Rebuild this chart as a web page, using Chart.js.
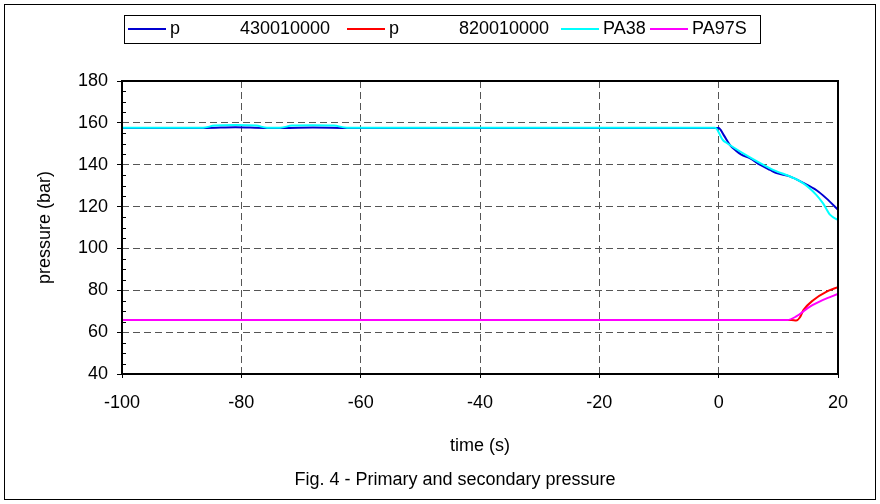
<!DOCTYPE html>
<html>
<head>
<meta charset="utf-8">
<script src="https://cdn.jsdelivr.net/npm/chart.js@4.4.0/dist/chart.umd.min.js"></script>
<style>
  html, body { margin: 0; padding: 0; background: #fff; }
  #wrap { width: 880px; height: 504px; }
</style>
</head>
<body>
<div id="wrap"><canvas id="chart" width="880" height="504"></canvas></div>
<script>
// time axis (s) and pressures (bar)
const primaryTime = [-100, -86, -81, -76, -73, -68, -62, -40, -20, 0, 0.8, 1.9, 3, 3.8, 5.2, 6.9, 8.6, 9.7, 11.9, 14.2, 16.4, 18.1, 20];
const primaryP    = [157.6, 157.6, 157.9, 157.6, 157.6, 157.8, 157.6, 157.6, 157.6, 157.6, 154.4, 149.4, 146.5, 144.8, 143.2, 140, 137.5, 136, 134.4, 131.3, 127.8, 123.8, 118.5];

const secondaryTime = [-100, -40, 0, 12.2, 13, 13.6, 14.2, 15.9, 18.1, 20];
const secondaryP    = [65.8, 65.8, 65.8, 65.8, 65.6, 67, 70.5, 75.4, 79.4, 81.5];

const pa38Time = [-100, -86.4, -84.5, -81, -77.5, -75.7, -73.5, -71.5, -68, -64.5, -62.3, -40, -0.6, 0.7, 1.3, 4.6, 8.6, 14.2, 16.4, 17.5, 18.7, 20];
const pa38P    = [157.7, 157.7, 158.7, 159, 158.7, 157.7, 157.7, 158.7, 158.9, 158.7, 157.7, 157.7, 157.7, 151.8, 150.5, 144.6, 138.3, 131.1, 125.5, 121.5, 116, 113.6];

const pa97sTime = [-100, -40, 0, 11.5, 13, 15.3, 17.5, 20];
const pa97sP    = [65.8, 65.8, 65.8, 65.8, 67.5, 72.2, 75.4, 78.3];

const seriesLabels = ['p            430010000', 'p            820010000', 'PA38', 'PA97S'];
const seriesColors = ['#0000d0', '#ff0000', '#00ffff', '#ff00ff'];

const xTicks = { min: -100, max: 20, step: 20 };
const yTicks = { min: 40, max: 180, step: 20 };

const FONT = '"Liberation Sans", Arial, sans-serif';

function pairs(t, v) { return t.map((x, i) => ({ x: x, y: v[i] })); }

const decor = {
  id: 'decor',
  afterDraw(chart) {
    const { ctx, chartArea: a, scales: { y } } = chart;
    ctx.save();
    // minor ticks inside left axis
    ctx.strokeStyle = '#000';
    ctx.lineWidth = 1;
    ctx.beginPath();
    for (let v = yTicks.min + 5; v < yTicks.max; v += 5) {
      if (v % yTicks.step === 0) continue;
      const py = Math.round(y.getPixelForValue(v)) + 0.5;
      ctx.moveTo(a.left, py);
      ctx.lineTo(a.left + 4, py);
    }
    ctx.stroke();
    // plot frame
    ctx.lineWidth = 2;
    ctx.strokeRect(a.left, a.top, a.right - a.left, a.bottom - a.top);
    // outer frame
    ctx.lineWidth = 1;
    ctx.strokeRect(4.5, 4.5, 871, 495);

    // legend
    ctx.font = '18px ' + FONT;
    ctx.textBaseline = 'middle';
    ctx.textAlign = 'left';
    const top = 15, bottom = 43, left = 124, right = 760;
    const ly = (top + bottom) / 2;
    const itemX = [128, 347, 561, 650];
    chart.data.datasets.forEach((ds, i) => {
      const lx = itemX[i];
      ctx.strokeStyle = ds.borderColor;
      ctx.lineWidth = 2;
      ctx.beginPath();
      ctx.moveTo(lx, ly);
      ctx.lineTo(lx + 38, ly);
      ctx.stroke();
      ctx.fillStyle = '#000';
      ctx.fillText(ds.label, lx + 42, ly);
    });
    ctx.strokeStyle = '#000';
    ctx.lineWidth = 1;
    ctx.strokeRect(left + 0.5, top + 0.5, right - left, bottom - top);

    // caption
    ctx.textAlign = 'center';
    ctx.fillText('Fig. 4 - Primary and secondary pressure', 455, 480);
    ctx.restore();
  }
};

new Chart(document.getElementById('chart'), {
  type: 'scatter',
  data: {
    datasets: [
      { label: seriesLabels[0], data: pairs(primaryTime, primaryP), borderColor: seriesColors[0], order: 4 },
      { label: seriesLabels[1], data: pairs(secondaryTime, secondaryP), borderColor: seriesColors[1], order: 3 },
      { label: seriesLabels[2], data: pairs(pa38Time, pa38P), borderColor: seriesColors[2], order: 2 },
      { label: seriesLabels[3], data: pairs(pa97sTime, pa97sP), borderColor: seriesColors[3], order: 1 }
    ].map(ds => Object.assign(ds, { showLine: true, pointRadius: 0, borderWidth: 2, cubicInterpolationMode: 'monotone', fill: false }))
  },
  options: {
    responsive: false,
    animation: false,
    layout: { padding: { top: 81, right: 42, bottom: 0, left: 0 } },
    plugins: { legend: { display: false }, tooltip: { enabled: false }, title: { display: false } },
    scales: {
      x: {
        type: 'linear',
        min: xTicks.min, max: xTicks.max,
        afterFit(s) { s.height = 130; },
        ticks: { stepSize: xTicks.step, color: '#000', padding: 14, font: { size: 18, family: FONT } },
        grid: { color: '#555', tickColor: '#000', tickLength: 4, lineWidth: 1 },
        border: { display: false, dash: [7, 4] },
        title: { display: true, text: 'time (s)', color: '#000', font: { size: 18, family: FONT }, padding: { top: 0, bottom: 47 } }
      },
      y: {
        min: yTicks.min, max: yTicks.max,
        afterFit(s) { s.width = 122; },
        ticks: { stepSize: yTicks.step, color: '#000', padding: 9, font: { size: 18, family: FONT } },
        grid: { color: '#555', tickColor: '#000', tickLength: 5, lineWidth: 1 },
        border: { display: false, dash: [7, 4] },
        title: { display: true, text: 'pressure (bar)', color: '#000', font: { size: 18, family: FONT }, padding: { top: 34, bottom: 0 } }
      }
    }
  },
  plugins: [decor]
});
</script>
</body>
</html>
